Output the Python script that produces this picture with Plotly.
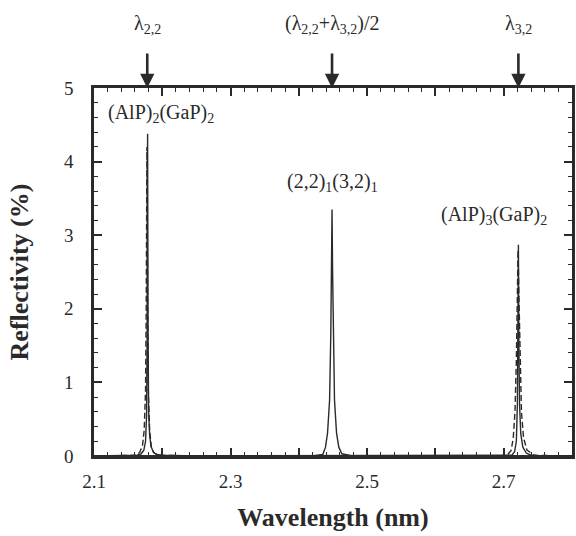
import plotly.graph_objects as go

# ---- data ----
# (AlP)2(GaP)2 peak - solid
x1_solid = [2.100, 2.150, 2.163, 2.169, 2.173, 2.1755, 2.1770, 2.1778, 2.1785, 2.1792, 2.1800, 2.1815, 2.1835, 2.187, 2.192, 2.200, 2.250, 2.800]
y1_solid = [0.00, 0.00, 0.01, 0.03, 0.08, 0.20, 0.55, 1.60, 4.38, 1.60, 0.60, 0.28, 0.13, 0.05, 0.02, 0.01, 0.00, 0.00]
# (AlP)2(GaP)2 peak - dashed
x1_dash = [2.100, 2.150, 2.162, 2.167, 2.171, 2.1735, 2.1755, 2.1765, 2.1775, 2.1785, 2.1795, 2.1815, 2.184, 2.188, 2.195, 2.250, 2.800]
y1_dash = [0.00, 0.00, 0.01, 0.05, 0.14, 0.35, 0.90, 2.10, 4.20, 2.10, 0.90, 0.35, 0.12, 0.04, 0.01, 0.00, 0.00]
# (2,2)1(3,2)1 peak - solid
x2_solid = [2.100, 2.420, 2.435, 2.439, 2.442, 2.445, 2.4468, 2.4478, 2.4486, 2.4494, 2.4504, 2.4522, 2.4552, 2.4585, 2.463, 2.478, 2.800]
y2_solid = [0.00, 0.00, 0.02, 0.12, 0.31, 0.76, 1.67, 2.50, 3.35, 2.50, 1.67, 0.76, 0.31, 0.12, 0.03, 0.00, 0.00]
# (AlP)3(GaP)2 peak - solid
x3_solid = [2.100, 2.700, 2.712, 2.716, 2.7185, 2.7200, 2.7208, 2.7215, 2.7222, 2.7232, 2.725, 2.728, 2.733, 2.740, 2.755, 2.800]
y3_solid = [0.00, 0.00, 0.01, 0.06, 0.20, 0.70, 1.50, 2.87, 1.50, 0.70, 0.30, 0.12, 0.04, 0.01, 0.00, 0.00]
# (AlP)3(GaP)2 peak - dashed
x3_dash = [2.100, 2.695, 2.706, 2.711, 2.714, 2.7165, 2.7185, 2.7200, 2.7210, 2.7222, 2.7238, 2.726, 2.729, 2.734, 2.745, 2.800]
y3_dash = [0.00, 0.00, 0.02, 0.08, 0.25, 0.60, 1.30, 2.20, 2.80, 2.20, 1.30, 0.60, 0.25, 0.08, 0.01, 0.00]

# marker arrows on top axis
arrow_x = [2.178, 2.4486, 2.7215]
arrow_labels = ["λ<sub>2,2</sub>", "(λ<sub>2,2</sub>+λ<sub>3,2</sub>)/2", "λ<sub>3,2</sub>"]

# peak labels
peak_label_x = [2.198, 2.4486, 2.686]
peak_label_y = [4.66, 3.72, 3.27]
peak_labels = ["(AlP)<sub>2</sub>(GaP)<sub>2</sub>", "(2,2)<sub>1</sub>(3,2)<sub>1</sub>", "(AlP)<sub>3</sub>(GaP)<sub>2</sub>"]

x_tickvals = [2.1, 2.2, 2.3, 2.4, 2.5, 2.6, 2.7, 2.8]
x_ticktext = ["2.1", "", "2.3", "", "2.5", "", "2.7", ""]
y_tickvals = [0, 1, 2, 3, 4, 5]

INK = "#2a2a2a"
FONT = "Liberation Serif"

fig = go.Figure()
solid = dict(color=INK, width=1.4)
dashed = dict(color=INK, width=1.4, dash="6px,3px")
fig.add_trace(go.Scatter(x=x1_dash, y=y1_dash, mode="lines", line=dashed, showlegend=False))
fig.add_trace(go.Scatter(x=x1_solid, y=y1_solid, mode="lines", line=solid, showlegend=False))
fig.add_trace(go.Scatter(x=x2_solid, y=y2_solid, mode="lines", line=solid, showlegend=False))
fig.add_trace(go.Scatter(x=x3_dash, y=y3_dash, mode="lines", line=dashed, showlegend=False))
fig.add_trace(go.Scatter(x=x3_solid, y=y3_solid, mode="lines", line=solid, showlegend=False))

for xv, lab in zip(arrow_x, arrow_labels):
    fig.add_annotation(x=xv, y=1.0, xref="x", yref="paper", text="", showarrow=True,
                       ax=0, ay=-36, arrowhead=2, arrowsize=1.1, arrowwidth=2.6, arrowcolor=INK,
                       standoff=0)
    fig.add_annotation(x=xv, y=1.172, xref="x", yref="paper", text=lab, showarrow=False,
                       font=dict(family=FONT, size=20, color=INK), yanchor="middle")

for xv, yv, lab in zip(peak_label_x, peak_label_y, peak_labels):
    fig.add_annotation(x=xv, y=yv, xref="x", yref="y", text=lab, showarrow=False,
                       font=dict(family=FONT, size=20, color=INK), yanchor="middle")

fig.update_xaxes(range=[2.1, 2.8], tickmode="array", tickvals=x_tickvals, ticktext=x_ticktext,
                 ticks="inside", ticklen=8, tickwidth=1.5, tickcolor=INK, ticklabelstandoff=6,
                 minor=dict(dtick=0.02, tick0=2.1, ticks="inside", ticklen=4, tickwidth=1.2, tickcolor=INK),
                 showline=True, linecolor=INK, linewidth=2.5, mirror="ticks", showgrid=False, zeroline=False,
                 tickfont=dict(family=FONT, size=19, color=INK),
                 title=dict(text="<b>Wavelength (nm)</b>", font=dict(family=FONT, size=26, color=INK), standoff=18))
fig.update_yaxes(range=[0, 5], tickmode="array", tickvals=y_tickvals,
                 ticks="inside", ticklen=8, tickwidth=1.5, tickcolor=INK, ticklabelstandoff=14,
                 minor=dict(dtick=0.2, tick0=0, ticks="inside", ticklen=4, tickwidth=1.2, tickcolor=INK),
                 showline=True, linecolor=INK, linewidth=2.5, mirror="ticks", showgrid=False, zeroline=False,
                 tickfont=dict(family=FONT, size=19, color=INK),
                 title=dict(text="<b>Reflectivity (%)</b>", font=dict(family=FONT, size=26, color=INK), standoff=28))

fig.update_layout(width=576, height=536, margin=dict(l=94, r=1, t=88, b=80),
                  plot_bgcolor="white", paper_bgcolor="white")

fig.write_html("out.html")
